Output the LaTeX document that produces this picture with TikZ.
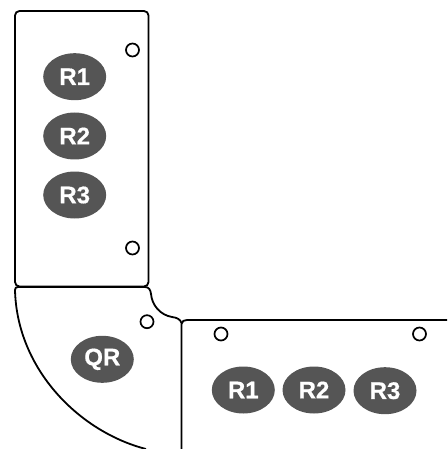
\documentclass[tikz,border=0pt]{standalone}
\usepackage{fontspec}
\setmainfont[BoldFeatures={FakeBold=0.6}]{Liberation Sans}
\usetikzlibrary{shapes.geometric}
\definecolor{badge}{HTML}{555555}
\tikzset{
  panel/.style={draw=black,line width=1.8pt,line join=round},
  badgenode/.style={ellipse,fill=badge,text=white,inner sep=0pt,minimum width=63pt,minimum height=47pt,font=\bfseries\fontsize{24}{24}\selectfont},
  hole/.style={circle,draw=black,fill=white,line width=1.7pt,inner sep=0pt,minimum size=13pt}
}
\begin{document}
\begin{tikzpicture}[x=1pt,y=-1pt]
\useasboundingbox (0,0) rectangle (447,449);
% upper panel
\draw[panel,rounded corners=4.5pt] (15,11) rectangle (148.5,286.5);
% corner sector
\draw[panel] (15,290) .. controls (15,288) and (16,287) .. (18,287) -- (145,287)
  .. controls (149,287) and (150.5,290) .. (151,294)
  .. controls (152,305) and (160,315) .. (172,317)
  .. controls (177,317.5) and (180.5,319.5) .. (181.5,323);
\draw[panel] (15,290) .. controls (17,370) and (80,432) .. (146,449);
% lower panel
\draw[panel] (447,320) -- (187,320) .. controls (184,320) and (182,321) .. (181.5,324) -- (181.5,449);
% holes
\node[hole] (h1) at (132.5,50) {};
\node[hole] (h2) at (132.5,248) {};
\node[hole] (h3) at (147,321.7) {};
\node[hole] (h4) at (221,334) {};
\node[hole] (h5) at (419.5,334) {};
% badges
\node[badgenode] (a1) at (74.7,76.7) {R1};
\node[badgenode] (a2) at (74.7,136) {R2};
\node[badgenode] (a3) at (74.7,195) {R3};
\node[badgenode] (q) at (102.3,359.3) {QR};
\node[badgenode] (b1) at (243.3,390) {R1};
\node[badgenode] (b2) at (314,390) {R2};
\node[badgenode] (b3) at (385,390.7) {R3};
\end{tikzpicture}
\end{document}
